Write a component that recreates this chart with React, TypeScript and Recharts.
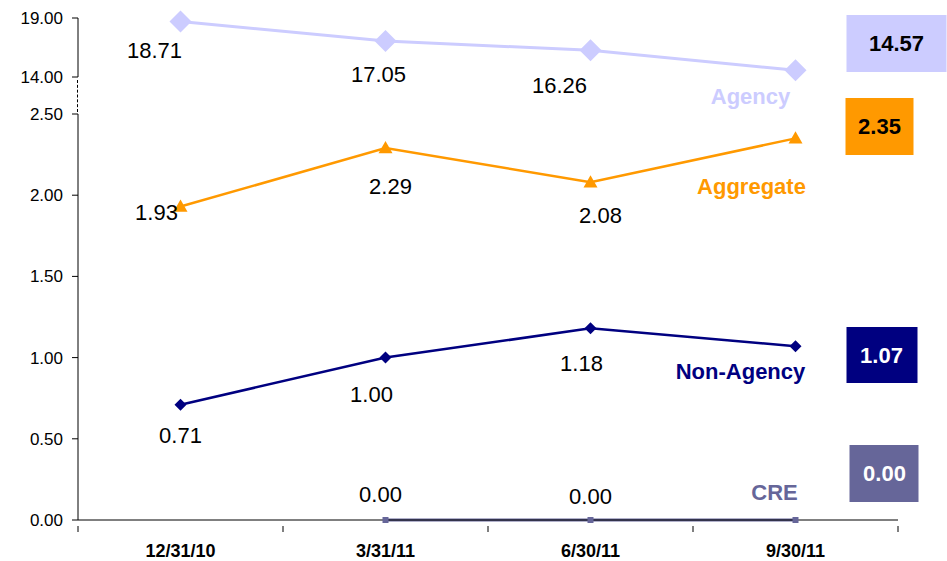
import React from 'react';
import { LineChart, Line, XAxis, YAxis, LabelList } from 'recharts';

const categories = ['12/31/10', '3/31/11', '6/30/11', '9/30/11'];
const agency = [18.71, 17.05, 16.26, 14.57];
const aggregate = [1.93, 2.29, 2.08, 2.35];
const nonAgency = [0.71, 1.0, 1.18, 1.07];
const cre: (number | null)[] = [null, 0, 0, 0];
const topTicks = [14, 19];
const bottomTicks = [0, 0.5, 1, 1.5, 2, 2.5];

const data = categories.map((c, i) => ({
  cat: c,
  agency: agency[i],
  aggregate: aggregate[i],
  nonAgency: nonAgency[i],
  cre: cre[i],
}));

const FONT = '"Liberation Sans", Arial, sans-serif';
const PLOT_LEFT = 78;
const PLOT_RIGHT_MARGIN = 49;
const BAND = (947 - PLOT_LEFT - PLOT_RIGHT_MARGIN) / categories.length;
const PAD = { left: BAND / 2, right: BAND / 2 };

type Cfg = {
  name: string;
  color: string;
  boxText: string;
  labelOff: ([number, number] | null)[];
  nameOff: [number, number];
  box: { dx: number; y: number; w: number; h: number; tx: number };
};

const cfgAgency: Cfg = {
  name: 'Agency', color: '#CCCCFF', boxText: '#000',
  labelOff: [[-26, 29], [-7, 33], [-31, 35], null],
  nameOff: [-45, 26],
  box: { dx: 51, y: 15, w: 100, h: 57, tx: 50 },
};
const cfgAggregate: Cfg = {
  name: 'Aggregate', color: '#FF9900', boxText: '#000',
  labelOff: [[-24, 6], [5, 38], [10, 33], null],
  nameOff: [-44, 48],
  box: { dx: 50, y: 98, w: 68, h: 57, tx: 34 },
};
const cfgNon: Cfg = {
  name: 'Non-Agency', color: '#000080', boxText: '#fff',
  labelOff: [[0, 31], [-14, 37], [-9, 35], null],
  nameOff: [-55, 25],
  box: { dx: 51, y: 327, w: 71, h: 56, tx: 35 },
};
const cfgCre: Cfg = {
  name: 'CRE', color: '#666699', boxText: '#fff',
  labelOff: [null, [-5, -26], [0, -24], null],
  nameOff: [-21, -28],
  box: { dx: 54, y: 445, w: 69, h: 57, tx: 35 },
};

const makeLabel = (cfg: Cfg) => (props: any) => {
  const { x, y, value, index } = props;
  if (value === null || value === undefined || x == null || y == null) return null;
  const off = cfg.labelOff[index];
  const els: React.ReactNode[] = [];
  if (off) {
    els.push(
      <text key="v" x={x + off[0]} y={y + off[1]} textAnchor="middle" dominantBaseline="central"
        fontFamily={FONT} fontSize={22} fill="#000">{Number(value).toFixed(2)}</text>
    );
  }
  if (index === categories.length - 1) {
    els.push(
      <text key="n" x={x + cfg.nameOff[0]} y={y + cfg.nameOff[1]} textAnchor="middle" dominantBaseline="central"
        fontFamily={FONT} fontSize={22} fontWeight="bold" fill={cfg.color}>{cfg.name}</text>
    );
    const bx = x + cfg.box.dx;
    els.push(
      <rect key="r" x={bx} y={cfg.box.y} width={cfg.box.w} height={cfg.box.h} fill={cfg.color} />
    );
    els.push(
      <text key="b" x={bx + cfg.box.tx} y={cfg.box.y + cfg.box.h / 2} textAnchor="middle" dominantBaseline="central"
        fontFamily={FONT} fontSize={22} fontWeight="bold" fill={cfg.boxText}>{Number(value).toFixed(2)}</text>
    );
  }
  return <g>{els}</g>;
};

const diamond = (color: string, r: number) => (props: any) => {
  const { cx, cy, index } = props;
  if (cx == null || cy == null || props.value == null) return <g key={index} />;
  return <polygon key={index} points={`${cx},${cy - r} ${cx + r},${cy} ${cx},${cy + r} ${cx - r},${cy}`} fill={color} />;
};
const triangle = (color: string, r: number) => (props: any) => {
  const { cx, cy, index } = props;
  if (cx == null || cy == null) return <g key={index} />;
  return <polygon key={index} points={`${cx},${cy - r} ${cx + r},${cy + r * 0.75} ${cx - r},${cy + r * 0.75}`} fill={color} />;
};
const square = (color: string, r: number) => (props: any) => {
  const { cx, cy, index, value } = props;
  if (cx == null || cy == null || value == null) return <g key={index} />;
  return <rect key={index} x={cx - r} y={cy - r} width={2 * r} height={2 * r} fill={color} />;
};

const XTick = (props: any) => {
  const { x, y, payload, index } = props;
  return (
    <g>
      {index === 0 && <line x1={x - BAND / 2} y1={y - 2} x2={x - BAND / 2} y2={y + 4} stroke="#000" />}
      <line x1={x + BAND / 2} y1={y - 2} x2={x + BAND / 2} y2={y + 4} stroke="#000" />
      <text x={x} y={y + 29} textAnchor="middle" fontFamily={FONT} fontSize={18} fontWeight="bold" fill="#000">
        {payload.value}
      </text>
    </g>
  );
};

const yTick = { fontFamily: FONT, fontSize: 17, fill: '#000' };

export default function App() {
  return (
    <div style={{ position: 'absolute', left: 0, top: 0, width: 947, height: 561, background: '#fff' }}>
      <div style={{ position: 'absolute', left: 0, top: 0 }}>
        <LineChart width={947} height={130} data={data}
          margin={{ top: 18, right: PLOT_RIGHT_MARGIN, bottom: 53, left: 0 }}
          style={{ overflow: 'visible' }}>
          <XAxis dataKey="cat" hide padding={PAD} />
          <YAxis width={PLOT_LEFT} domain={[14, 19]} ticks={topTicks}
            tickFormatter={(v: number) => v.toFixed(2)} tick={yTick}
            axisLine={{ stroke: '#000' }} tickLine={{ stroke: '#000' }} tickMargin={9} />
          <Line dataKey="agency" stroke={cfgAgency.color} strokeWidth={3} isAnimationActive={false}
            dot={diamond(cfgAgency.color, 11)} activeDot={false}>
            <LabelList dataKey="agency" content={makeLabel(cfgAgency)} />
          </Line>
        </LineChart>
      </div>
      <div style={{ position: 'absolute', left: PLOT_LEFT - 1, top: 80, height: 32, borderLeft: '1px dashed #000' }} />
      <div style={{ position: 'absolute', left: 0, top: 0 }}>
        <LineChart width={947} height={561} data={data}
          margin={{ top: 114, right: PLOT_RIGHT_MARGIN, bottom: 11, left: 0 }}
          style={{ overflow: 'visible' }}>
          <XAxis dataKey="cat" height={30} tickLine={false} tick={<XTick />} axisLine={{ stroke: '#000' }}
            interval={0} padding={PAD} />
          <YAxis width={PLOT_LEFT} domain={[0, 2.5]} ticks={bottomTicks}
            tickFormatter={(v: number) => v.toFixed(2)} tick={yTick}
            axisLine={{ stroke: '#000' }} tickLine={{ stroke: '#000' }} tickMargin={9} />
          <Line dataKey="cre" stroke={cfgCre.color} strokeWidth={3} isAnimationActive={false}
            dot={square(cfgCre.color, 3)} activeDot={false} connectNulls={false}>
            <LabelList dataKey="cre" content={makeLabel(cfgCre)} />
          </Line>
          <Line dataKey="nonAgency" stroke={cfgNon.color} strokeWidth={2.5} isAnimationActive={false}
            dot={diamond(cfgNon.color, 6)} activeDot={false}>
            <LabelList dataKey="nonAgency" content={makeLabel(cfgNon)} />
          </Line>
          <Line dataKey="aggregate" stroke={cfgAggregate.color} strokeWidth={2.5} isAnimationActive={false}
            dot={triangle(cfgAggregate.color, 7)} activeDot={false}>
            <LabelList dataKey="aggregate" content={makeLabel(cfgAggregate)} />
          </Line>
        </LineChart>
      </div>
    </div>
  );
}
